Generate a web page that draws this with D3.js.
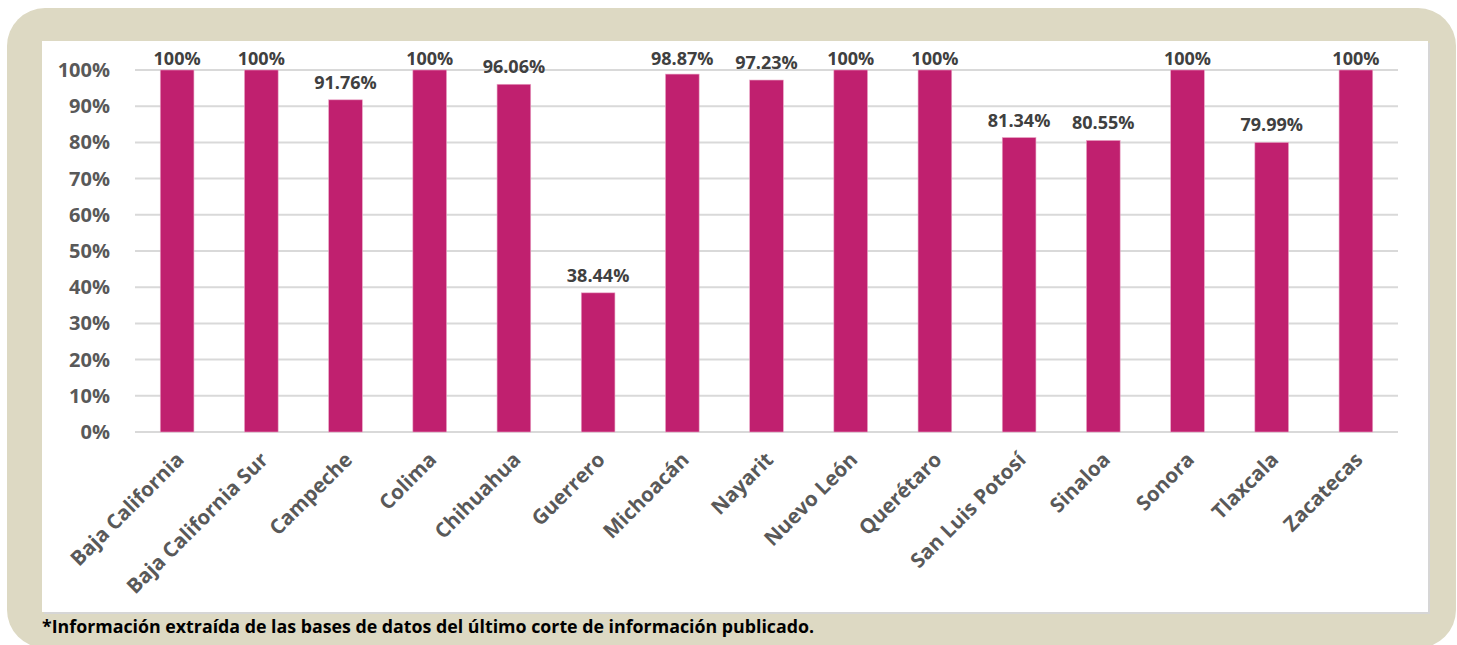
<!DOCTYPE html>
<html lang="es">
    <head>
        <meta charset="utf-8">
        <title>Porcentaje por entidad</title>
        <script src="https://d3js.org/d3.v7.min.js"></script>
        <style type="text/css">
          body{
            margin:0;
            background:#ffffff;
          }
          svg{
            width:1457px;
            height:645px;
            display:block;
          }
          .tick text, .vlabel, .note{
            font-family: "Open Sans", sans-serif;
            font-weight: bold;
          }
        </style>
    </head>
    <body>
        <svg></svg>

        <script type="text/javascript">

        // data
        const estados = ["Baja California", "Baja California Sur", "Campeche", "Colima", "Chihuahua",
                         "Guerrero", "Michoacán", "Nayarit", "Nuevo León", "Querétaro",
                         "San Luis Potosí", "Sinaloa", "Sonora", "Tlaxcala", "Zacatecas"];
        const porcentajes = [100, 100, 91.76, 100, 96.06, 38.44, 98.87, 97.23, 100, 100, 81.34, 80.55, 100, 79.99, 100];
        const yTicks = [0, 10, 20, 30, 40, 50, 60, 70, 80, 90, 100];
        const nota = "*Información extraída de las bases de datos del último corte de información publicado.";

        const dataset = estados.map((d, i) => ({estado: d, valor: porcentajes[i]}));

        const svg = d3.select("svg");

        // beige frame + white panel
        svg.append("rect")
           .attr("x", 7).attr("y", 8)
           .attr("width", 1449).attr("height", 640)
           .attr("rx", 38)
           .attr("fill", "#ddd9c3");

        svg.append("rect")
           .attr("x", 44).attr("y", 43)
           .attr("width", 1386).attr("height", 571)
           .attr("fill", "#d6d6d6");
        svg.append("rect")
           .attr("x", 42).attr("y", 41)
           .attr("width", 1386).attr("height", 571)
           .attr("fill", "#ffffff");

        const plotLeft = 135, plotRight = 1398, plotTop = 70, plotBottom = 432;

        const x = d3.scaleBand()
                    .domain(estados)
                    .range([plotLeft, plotRight])
                    .paddingInner(0.6)
                    .paddingOuter(0.3);

        const y = d3.scaleLinear()
                    .domain([0, 100])
                    .range([plotBottom, plotTop]);

        // gridlines
        svg.append("g")
           .selectAll("line")
           .data(yTicks)
           .enter()
           .append("line")
           .attr("x1", plotLeft).attr("x2", plotRight)
           .attr("y1", d => y(d)).attr("y2", d => y(d))
           .attr("stroke", "#d9d9d9")
           .attr("stroke-width", 2);

        // y axis labels
        const yAxis = d3.axisLeft(y)
                        .tickValues(yTicks)
                        .tickFormat(d => d + "%")
                        .tickSize(0)
                        .tickPadding(0);
        const gy = svg.append("g")
                      .attr("transform", "translate(110,0)")
                      .call(yAxis);
        gy.select(".domain").remove();
        gy.selectAll("text")
          .attr("font-size", "20px")
          .attr("fill", "#595959");

        // bars
        svg.append("g")
           .selectAll("rect")
           .data(dataset)
           .enter()
           .append("rect")
           .attr("x", d => x(d.estado))
           .attr("y", d => y(d.valor))
           .attr("width", x.bandwidth())
           .attr("height", d => plotBottom - y(d.valor))
           .attr("fill", "#c0206f")
           .attr("stroke", "#e9a6c6")
           .attr("stroke-width", 0.6);

        // value labels (kept inside the top of the plot area)
        svg.append("g")
           .selectAll("text")
           .data(dataset)
           .enter()
           .append("text")
           .attr("class", "vlabel")
           .attr("x", d => x(d.estado) + x.bandwidth() / 2)
           .attr("y", d => Math.max(y(d.valor) - 11, plotTop - 5))
           .attr("text-anchor", "middle")
           .attr("font-size", "18px")
           .attr("fill", "#404040")
           .text(d => d.valor === 100 ? "100%" : d3.format(".2f")(d.valor) + "%");

        // x axis labels
        const xAxis = d3.axisBottom(x).tickSize(0).tickPadding(0);
        const gx = svg.append("g")
                      .attr("transform", "translate(0," + plotBottom + ")")
                      .call(xAxis);
        gx.select(".domain").remove();
        gx.selectAll("text")
          .attr("font-size", "20.5px")
          .attr("fill", "#595959")
          .attr("text-anchor", "end")
          .attr("dy", "0.35em")
          .attr("transform", "translate(3,24) rotate(-45)");

        // footnote
        svg.append("text")
           .attr("class", "note")
           .attr("x", 42)
           .attr("y", 633)
           .attr("font-size", "17.8px")
           .attr("fill", "#000000")
           .text(nota);
        </script>
    </body>
</html>
